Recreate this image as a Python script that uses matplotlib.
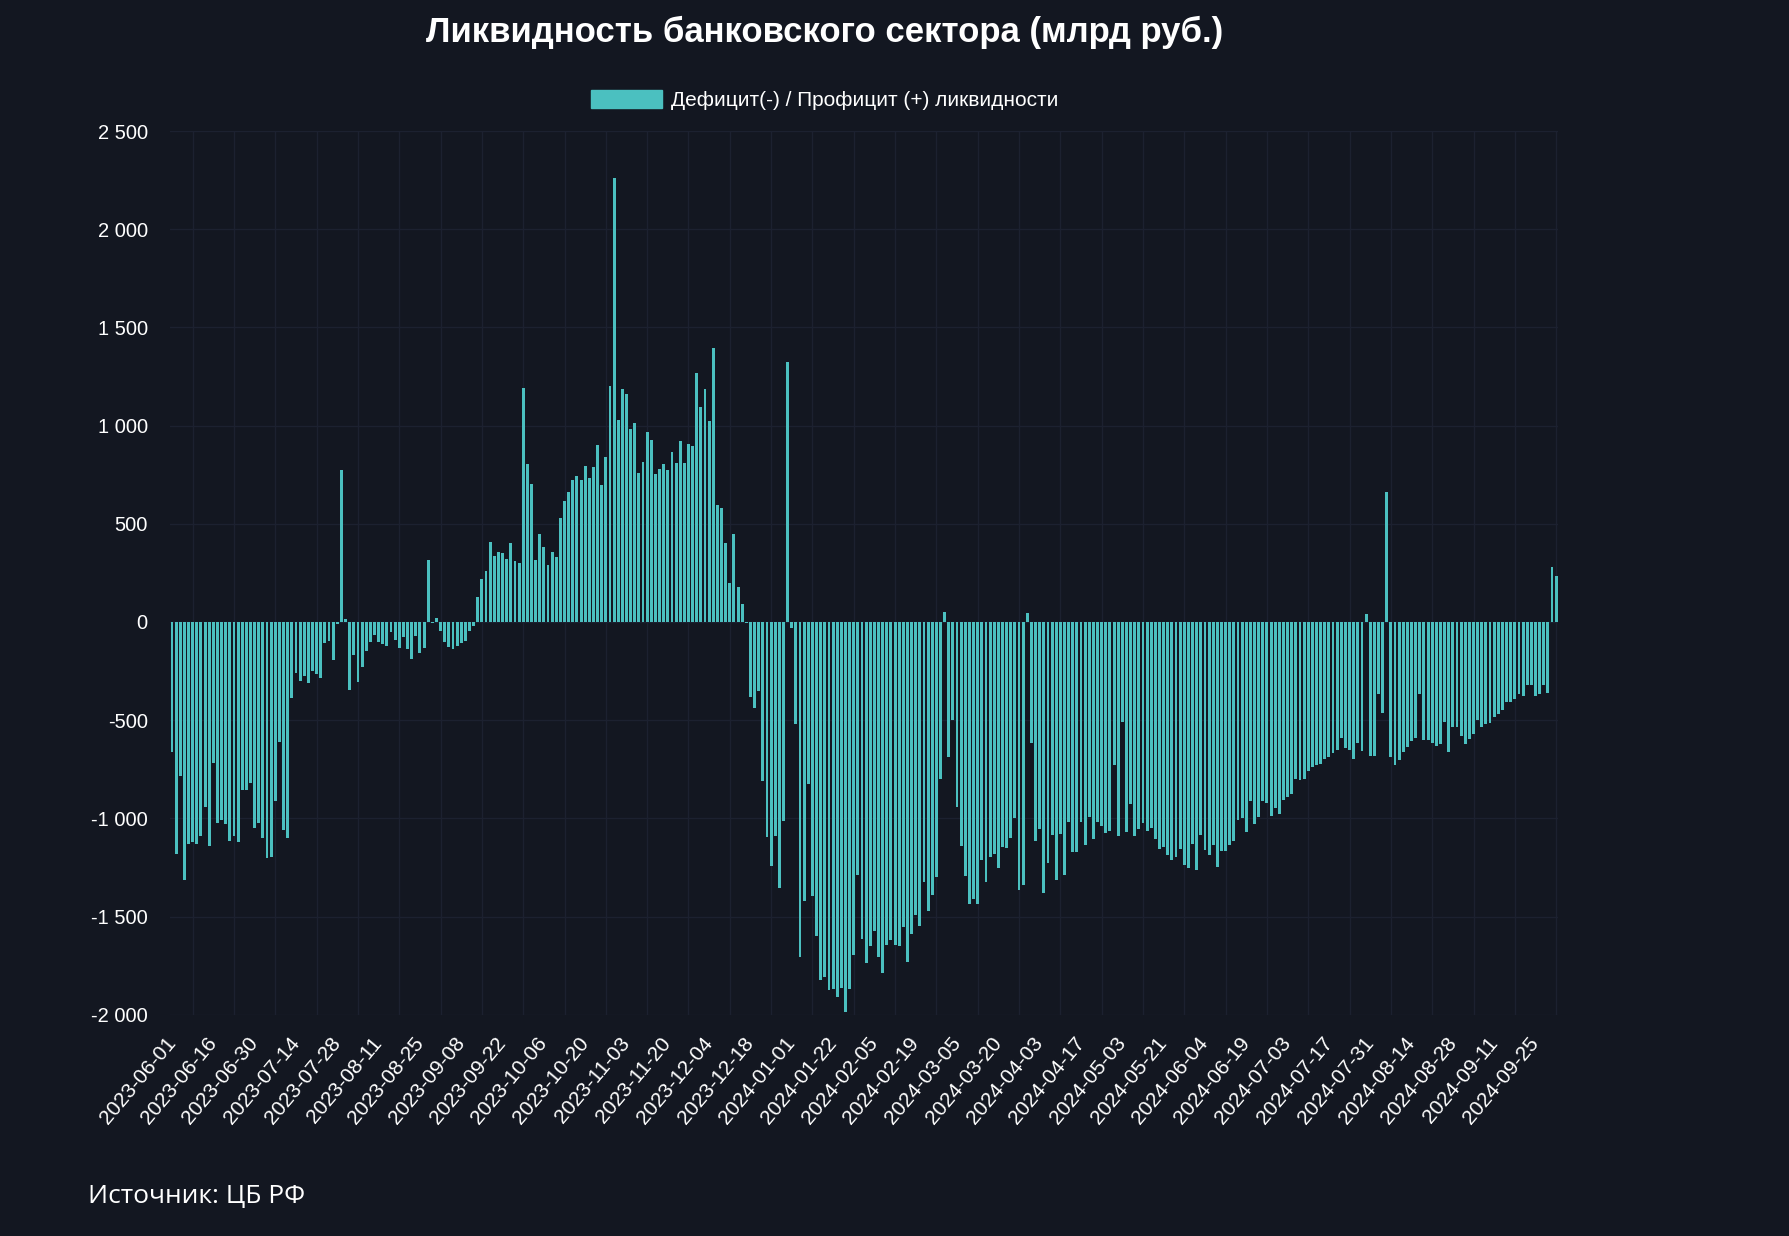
import matplotlib
matplotlib.use('Agg')
import matplotlib.pyplot as plt
from matplotlib.ticker import FuncFormatter, MultipleLocator, FixedLocator
from matplotlib.patches import Patch
import pandas as pd

# Russian business days (CBR publishes on working days)
holidays = ['2023-06-12', '2023-11-06',
            '2024-01-02', '2024-01-03', '2024-01-04', '2024-01-05', '2024-01-08',
            '2024-02-23', '2024-03-08', '2024-04-29', '2024-04-30', '2024-05-01',
            '2024-05-09', '2024-05-10', '2024-06-12']
extra_workdays = ['2024-04-27']

days = pd.bdate_range('2023-06-01', '2024-10-02', freq='C', holidays=holidays)
days = days.union(pd.to_datetime(extra_workdays))
dates = [d.strftime('%Y-%m-%d') for d in days]

# liquidity deficit(-)/surplus(+), bn rub, 2023-06-01 .. 2023-12-29
liq_2023 = [
    -660, -1182, -784, -1316, -1130, -1118, -1131, -1092, -941, -1140,
    -716, -1026, -1008, -1028, -1114, -1089, -1118, -855, -858, -818,
    -1048, -1025, -1101, -1204, -1199, -914, -611, -1059, -1099, -385,
    -261, -300, -273, -312, -249, -265, -285, -107, -97, -193,
    -8, 773, 14, -346, -168, -305, -230, -150, -100, -66,
    -100, -110, -120, -49, -90, -130, -78, -140, -190, -73,
    -160, -130, 316, -5, 20, -44, -100, -125, -140, -120,
    -105, -95, -46, -20, 129, 217, 261, 407, 336, 356,
    351, 319, 402, 309, 299, 1191, 802, 704, 316, 446,
    382, 290, 356, 331, 529, 616, 660, 723, 743, 723,
    794, 731, 789, 899, 697, 838, 1204, 2263, 1028, 1184,
    1160, 982, 1011, 757, 814, 967, 926, 755, 777, 806,
    775, 867, 809, 923, 809, 906, 896, 1269, 1096, 1187,
    1021, 1396, 594, 580, 400, 197, 446, 180, 90, -5,
    -380, -440, -350, -809, -1094, -1245, -1089, -1357, -1011, 1323,
]

# 2024-01-01 .. 2024-10-02
liq_2024 = [
    -31, -519, -1708, -1421, -824, -1396, -1601, -1825, -1807, -1874,
    -1871, -1912, -1864, -1986, -1871, -1698, -1289, -1615, -1734, -1649,
    -1571, -1705, -1785, -1644, -1617, -1645, -1650, -1552, -1729, -1591,
    -1491, -1547, -1323, -1472, -1388, -1301, -802, 49, -685, -500,
    -940, -1142, -1291, -1437, -1410, -1434, -1213, -1326, -1196, -1182,
    -1254, -1147, -1152, -1098, -999, -1364, -1338, 44, -614, -1113,
    -1052, -1381, -1225, -1087, -1313, -1082, -1286, -1016, -1172, -1169,
    -1021, -1135, -994, -1104, -1019, -1041, -1072, -1062, -728, -1091,
    -507, -1067, -929, -1092, -1053, -1023, -1062, -1048, -1103, -1157,
    -1145, -1184, -1211, -1199, -1157, -1235, -1255, -1128, -1264, -1084,
    -1162, -1184, -1137, -1246, -1165, -1164, -1138, -1113, -1007, -996,
    -1067, -911, -1028, -992, -914, -923, -987, -945, -980, -909,
    -892, -877, -802, -804, -802, -757, -736, -726, -721, -699,
    -685, -665, -650, -592, -643, -651, -700, -616, -655, 41,
    -680, -682, -366, -461, 662, -687, -726, -704, -662, -635,
    -604, -589, -366, -602, -599, -614, -633, -620, -509, -662,
    -533, -533, -579, -623, -594, -572, -499, -536, -522, -512,
    -482, -470, -446, -405, -409, -390, -368, -375, -319, -321,
    -378, -365, -322, -361, 280, 232,
]

values = liq_2023 + liq_2024
n = min(len(values), len(dates))
values = values[:n]
dates = dates[:n]
x = list(range(n))

bg = '#131721'
grid_col = '#1c2130'
bar_col = '#4bc0c0'

plt.rcParams['font.family'] = ['Liberation Sans', 'DejaVu Sans']

fig = plt.figure(figsize=(17.89, 12.36), dpi=100, facecolor=bg)
ax = fig.add_axes([0.095, 0.179, 0.776, 0.715])
ax.set_facecolor(bg)

ax.bar(x, values, width=0.7, color=bar_col, linewidth=0, zorder=2)

ax.set_xlim(-0.5, n - 0.5)
ax.set_ylim(-2000, 2500)

# y axis
ax.yaxis.set_major_locator(MultipleLocator(500))
ax.yaxis.set_major_formatter(FuncFormatter(lambda v, p: f"{int(v):,}".replace(',', ' ')))

# x axis: every 10th date, grid between shown ticks
ax.set_xticks(x[::10])
ax.set_xticklabels(dates[::10], rotation=50, ha='right', va='center',
                   rotation_mode='anchor')
ax.xaxis.set_minor_locator(FixedLocator([i + 5 for i in x[::10]]))

ax.grid(axis='y', which='major', color=grid_col, linewidth=1, zorder=0)
ax.grid(axis='x', which='minor', color=grid_col, linewidth=1, zorder=0)
ax.set_axisbelow(True)

for s in ax.spines.values():
    s.set_visible(False)

ax.tick_params(axis='both', which='both', length=0, colors='white')
ax.tick_params(axis='y', labelsize=14.5, pad=16)
ax.tick_params(axis='x', labelsize=15, pad=18)

# title and legend
fig.text(0.461, 0.974, 'Ликвидность банковского сектора (млрд руб.)',
         ha='center', va='center', fontsize=25, fontweight='bold', color='white')

handle = Patch(facecolor=bar_col, edgecolor=bar_col)
fig.legend([handle], ['Дефицит(-) / Профицит (+) ликвидности'],
           loc='center', bbox_to_anchor=(0.461, 0.919), frameon=False,
           fontsize=15, labelcolor='white', handlelength=3.4, handleheight=0.95,
           handletextpad=0.45)

fig.text(0.049, 0.032, 'Источник: ЦБ РФ', ha='left', va='center',
         fontsize=19, color='white', family=['Open Sans', 'DejaVu Sans'])

fig.savefig('out.png', dpi=100, facecolor=bg)
